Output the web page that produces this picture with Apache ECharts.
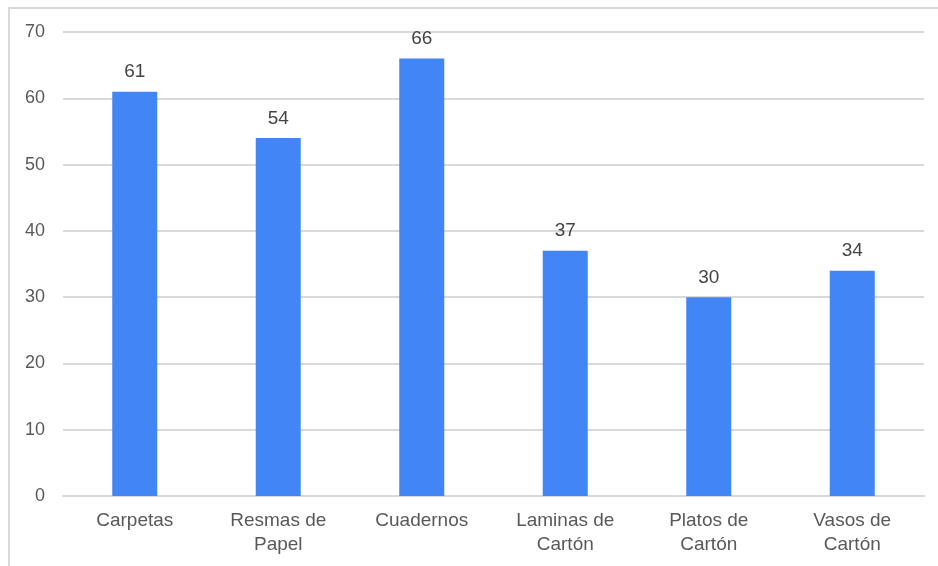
<!DOCTYPE html>
<html>
<head>
<meta charset="utf-8">
<script src="https://cdn.jsdelivr.net/npm/echarts@6/dist/echarts.min.js"></script>
<style>
  html, body { margin: 0; padding: 0; background: #fff; }
  #chart { width: 938px; height: 566px; }
</style>
</head>
<body>
<div id="chart"></div>
<script>
// Product categories and their counts
const categories = ['Carpetas', 'Resmas de\nPapel', 'Cuadernos', 'Laminas de\nCartón', 'Platos de\nCartón', 'Vasos de\nCartón'];
const values = [61, 54, 66, 37, 30, 34];
const yTicks = { min: 0, max: 70, interval: 10 };

const chart = echarts.init(document.getElementById('chart'));
const font = '"Liberation Sans", Arial, sans-serif';

chart.setOption({
  animation: false,
  backgroundColor: '#fff',
  graphic: [{
    type: 'rect',
    shape: { x: 9, y: 8, width: 1000, height: 1000 },
    style: { fill: 'none', stroke: '#d9d9d9', lineWidth: 2 },
    silent: true
  }],
  grid: { left: 63, right: 14, top: 32, bottom: 70 },
  xAxis: {
    type: 'category',
    data: categories,
    axisTick: { show: false },
    axisLine: { lineStyle: { color: '#d9d9d9', width: 2 } },
    axisLabel: {
      color: '#595959', fontFamily: font, fontSize: 19, lineHeight: 24,
      margin: 13, interval: 0
    }
  },
  yAxis: {
    type: 'value',
    min: yTicks.min, max: yTicks.max, interval: yTicks.interval,
    axisLine: { show: false },
    axisTick: { show: false },
    axisLabel: { color: '#595959', fontFamily: font, fontSize: 18, margin: 18 },
    splitLine: { lineStyle: { color: '#d9d9d9', width: 2 } }
  },
  series: [{
    type: 'bar',
    data: values,
    barWidth: 45,
    itemStyle: { color: '#4285F4' },
    label: {
      show: true, position: 'top', distance: 10,
      color: '#444', fontFamily: font, fontSize: 19
    }
  }]
});
</script>
</body>
</html>
